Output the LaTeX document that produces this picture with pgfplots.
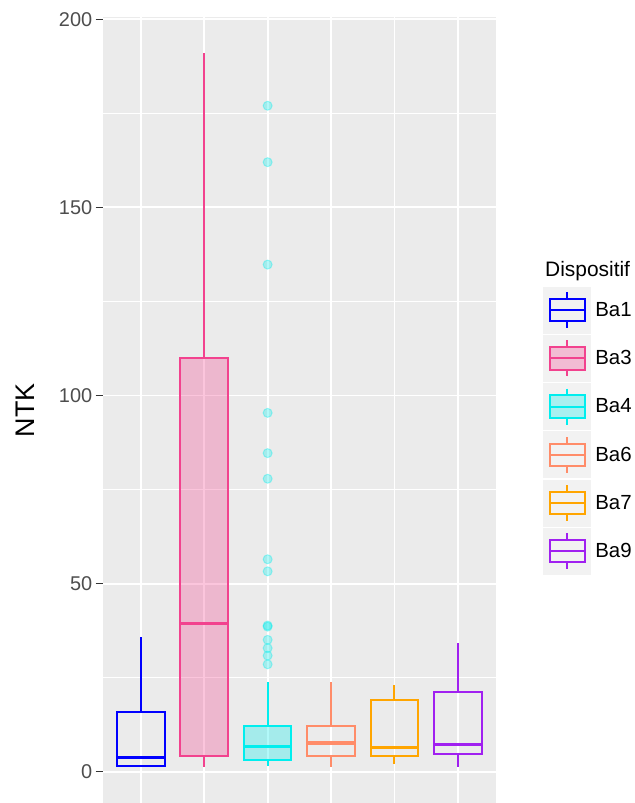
\documentclass[border=0pt]{standalone}
\usepackage{fontspec}
\setmainfont{Liberation Sans}
\usepackage{pgfplots}
\pgfplotsset{compat=1.18}
\usepgfplotslibrary{statistics}
\definecolor{panelbg}{HTML}{EBEBEB}
\definecolor{keybg}{HTML}{F2F2F2}
\definecolor{tickgray}{HTML}{4D4D4D}
\definecolor{tickmark}{HTML}{333333}
\definecolor{cBa1}{HTML}{0000FF}
\definecolor{cBa3}{HTML}{F2428E}
\definecolor{cBa4}{HTML}{00EEEE}
\definecolor{cBa6}{HTML}{FF8C69}
\definecolor{cBa7}{HTML}{FFA500}
\definecolor{cBa9}{HTML}{A020F0}
\pgfplotsset{
  boxkey/.style 2 args={legend image code/.code={
    \fill[keybg, opacity=1] (0bp,-22.5bp) rectangle (46bp,22.5bp);
    \draw[#1, opacity=1, line width=2bp] (23bp,11.25bp) -- (23bp,18bp) (23bp,-11.25bp) -- (23bp,-18bp);
    \draw[#1, draw opacity=1, fill=#1, fill opacity=#2, line width=2bp] (5.75bp,-11.25bp) rectangle (40.25bp,11.25bp);
    \draw[#1, opacity=1, line width=2bp] (5.75bp,0bp) -- (40.25bp,0bp);
  }},
}
\begin{document}
\begin{tikzpicture}
\begin{axis}[
  scale only axis, width=393.3bp, height=785.7bp,
  xmin=0.4, xmax=6.6, ymin=-8.25, ymax=200.5,
  axis background/.style={fill=panelbg},
  axis line style={draw=none},
  xtick={1,2,3,4,5,6}, xticklabels={}, xtick style={draw=none},
  ytick={0,50,100,150,200}, minor ytick={25,75,125,175},
  xmajorgrids, ymajorgrids, yminorgrids,
  major grid style={white, line width=1.8bp},
  minor grid style={white, line width=0.9bp},
  ytick style={draw=tickmark, line width=1bp},
  major tick length=7bp, minor tick length=0pt, tick align=outside, ytick pos=left,
  yticklabel style={font=\fontsize{20}{24}\selectfont, text=tickgray},
  /pgf/number format/assume math mode=true,
  ylabel={NTK},
  ylabel style={at={(axis description cs:-0.1976,0.5)}, anchor=center, font=\fontsize{27}{30}\selectfont, inner sep=0pt},
  legend style={at={(1.1203,0.6571)}, anchor=north west, draw=none, fill=none,
    inner sep=0pt, outer sep=0pt, row sep=1.2bp, column sep=4bp,
    nodes={inner sep=0pt, font=\fontsize{20.5}{24}\selectfont, text=black}},
  legend cell align=left,
  boxplot/draw direction=y,
  boxplot/whisker extend=0,
  boxplot/box extend=0.75,
  boxplot/every median/.style={line width=3.2bp},
  clip=false,
]
\addplot[cBa1, line width=2bp, fill=none,
  boxplot prepared={lower whisker=1.5, lower quartile=1.5, median=3.9, upper quartile=15.9, upper whisker=35.8, draw position=1},
  boxkey={cBa1}{0}] coordinates {};
\addlegendentry{Ba1}
\addplot[cBa3, line width=2bp, fill=cBa3, fill opacity=0.3,
  boxplot prepared={lower whisker=1.3, lower quartile=4.3, median=39.5, upper quartile=109.9, upper whisker=191.0, draw position=2},
  boxkey={cBa3}{0.3}] coordinates {};
\addlegendentry{Ba3}
\addplot[cBa4, line width=2bp, fill=cBa4, fill opacity=0.3,
  mark=*, mark size=4.5bp,
  mark options={draw=cBa4, fill=cBa4, draw opacity=0.35, fill opacity=0.3, line width=1bp},
  boxplot prepared={lower whisker=1.5, lower quartile=3.1, median=6.8, upper quartile=12.1, upper whisker=23.9, draw position=3},
  boxkey={cBa4}{0.3}] coordinates {(3,177.0) (3,162.0) (3,134.8) (3,95.4) (3,84.7) (3,77.9) (3,56.5) (3,53.3) (3,38.9) (3,38.6) (3,35.1) (3,32.9) (3,30.9) (3,28.6)};
\addlegendentry{Ba4}
\addplot[cBa6, line width=2bp, fill=none,
  boxplot prepared={lower whisker=1.3, lower quartile=4.3, median=7.7, upper quartile=12.2, upper whisker=24.0, draw position=4},
  boxkey={cBa6}{0}] coordinates {};
\addlegendentry{Ba6}
\addplot[cBa7, line width=2bp, fill=none,
  boxplot prepared={lower whisker=2.0, lower quartile=4.2, median=6.5, upper quartile=19.1, upper whisker=23.0, draw position=5},
  boxkey={cBa7}{0}] coordinates {};
\addlegendentry{Ba7}
\addplot[cBa9, line width=2bp, fill=none,
  boxplot prepared={lower whisker=1.3, lower quartile=4.9, median=7.3, upper quartile=21.3, upper whisker=34.2, draw position=6},
  boxkey={cBa9}{0}] coordinates {};
\addlegendentry{Ba9}
\end{axis}
\node[anchor=base west, inner sep=0pt, font=\fontsize{21}{24}\selectfont] at ([xshift=442.3bp, yshift=526.3bp]current axis.south west) {Dispositif};
\pgfresetboundingbox
\path[use as bounding box] ([xshift=-102.7bp]current axis.south west) rectangle ([xshift=532.3bp,yshift=803bp]current axis.south west);
\end{tikzpicture}
\end{document}
